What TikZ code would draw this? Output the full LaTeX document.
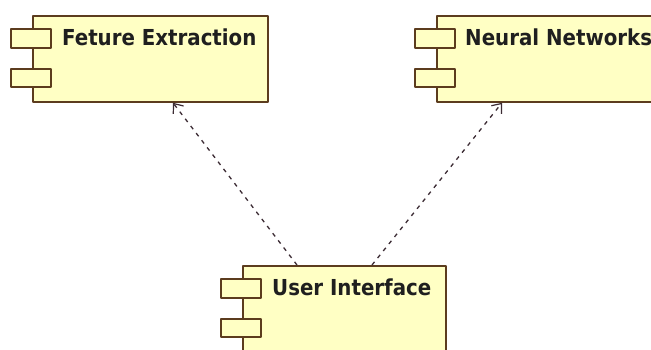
\documentclass[tikz,border=0pt]{standalone}
\usepackage{fontspec}
\setmainfont{DejaVu Sans Condensed}
\usetikzlibrary{arrows.meta}
\definecolor{compfill}{RGB}{255,255,196}
\definecolor{compline}{RGB}{92,60,30}
\definecolor{depline}{RGB}{60,44,52}
\tikzset{
	comp/.style={draw=compline, fill=compfill, line width=1.8pt, anchor=north west, inner sep=0pt, minimum height=86pt},
	port/.style={draw=compline, fill=compfill, line width=1.8pt},
	comptitle/.style={anchor=base west, inner sep=0pt, text=black!88, font=\bfseries\fontsize{22}{24}\selectfont},
	dep/.style={draw=depline, line width=1.3pt, dash pattern=on 4pt off 5pt, -{Straight Barb[length=8pt,width=13pt,line width=1.2pt]}}
}
% the two little port boxes on the left side of a component
\newcommand\compports[1]{
	\draw[port]([xshift=-21pt,yshift=-14pt]#1.north west)rectangle([xshift=19pt,yshift=-33pt]#1.north west);
	\draw[port]([xshift=-21pt,yshift=-54pt]#1.north west)rectangle([xshift=19pt,yshift=-72pt]#1.north west);
}
\begin{document}
\begin{tikzpicture}[x=1pt, y=-1pt, line join=round]
		\clip (0,0) rectangle (651,349);
		\fill[white] (0,0) rectangle (651,349);
		% components
		\node[comp, minimum width=235pt] (fe) at (32,15) {};
		\node[comp, minimum width=250pt] (nn) at (436,15) {};
		\node[comp, minimum width=203pt] (ui) at (242,265) {};
		\compports{fe}
		\compports{nn}
		\compports{ui}
		\node[comptitle] (fet) at ([xshift=30pt,yshift=-30pt]fe.north west) {Feture Extraction};
		\node[comptitle] (nnt) at ([xshift=29pt,yshift=-30pt]nn.north west) {Neural Networks};
		\node[comptitle] (uit) at ([xshift=30pt,yshift=-30pt]ui.north west) {User Interface};
		% dependencies
		\draw[dep] ([xshift=55pt]ui.north west) -- ([xshift=141pt]fe.south west);
		\draw[dep] ([xshift=130pt]ui.north west) -- ([xshift=66pt]nn.south west);
		
	\end{tikzpicture}
\end{document}
